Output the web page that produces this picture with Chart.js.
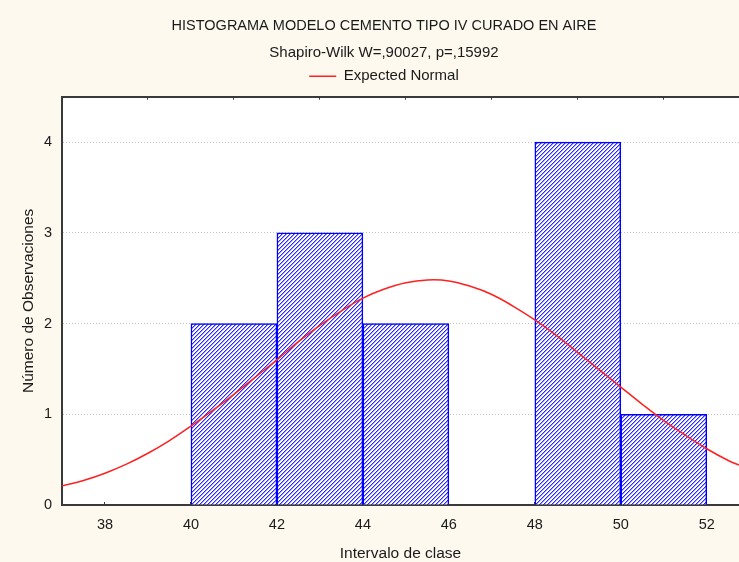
<!DOCTYPE html>
<html>
<head>
<meta charset="utf-8">
<script src="https://cdn.jsdelivr.net/npm/chart.js@4/dist/chart.umd.min.js"></script>
<style>
  html, body { margin: 0; padding: 0; background: #fdf9ef; }
  #histo { display: block; }
</style>
</head>
<body>
<canvas id="histo" width="739" height="562"></canvas>
<script>
// histogram bins (centre of each class interval) and counts
const binCenters = [41, 43, 45, 47, 49, 51];
const binCounts = [2, 3, 2, 0, 4, 1];

// expected normal curve, every half unit
const normalX = [37, 37.5, 38, 38.5, 39, 39.5, 40, 40.5, 41, 41.5, 42, 42.5, 43, 43.5, 44, 44.5,
    45, 45.5, 46, 46.5, 47, 47.5, 48, 48.5, 49, 49.5, 50, 50.5, 51, 51.5, 52, 52.5, 52.75];
const normalY = [0.21, 0.27, 0.35, 0.45, 0.57, 0.71, 0.87, 1.04, 1.22, 1.41, 1.6, 1.8, 1.98, 2.14, 2.28, 2.38,
    2.45, 2.48, 2.47, 2.41, 2.32, 2.19, 2.04, 1.87, 1.68, 1.49, 1.3, 1.11, 0.93, 0.77, 0.62, 0.49, 0.44];

const titleText = 'HISTOGRAMA MODELO CEMENTO TIPO IV CURADO EN AIRE';
const subtitleText = 'Shapiro-Wilk W=,90027, p=,15992';
const xTitle = 'Intervalo de clase';
const yTitle = 'Número de Observaciones';

const fontFamily = "'Liberation Sans', Arial, sans-serif";
const textColor = '#1a1a1a';
const axisColor = '#3a3a3a';

// diagonal hatch like the original, blue on white
function makeHatch() {
    const c = document.createElement('canvas');
    c.width = 4;
    c.height = 4;
    const g = c.getContext('2d');
    const img = g.createImageData(4, 4);
    for (let i = 0; i < 16; i++) {
        img.data[i * 4] = 255;
        img.data[i * 4 + 1] = 255;
        img.data[i * 4 + 2] = 255;
        img.data[i * 4 + 3] = 255;
    }
    for (let yy = 0; yy < 4; yy++) {
        const xx = 3 - yy;
        [xx, (xx + 1) % 4].forEach((px, k) => {
            const idx = (yy * 4 + px) * 4;
            img.data[idx] = k ? 160 : 40;
            img.data[idx + 1] = k ? 160 : 40;
            img.data[idx + 2] = 255;
        });
    }
    g.putImageData(img, 0, 0);
    return g.createPattern(c, 'repeat');
}

const plotBackground = {
    id: 'plotBackground',
    beforeDraw(chart) {
        const { ctx, chartArea } = chart;
        ctx.save();
        ctx.fillStyle = '#ffffff';
        ctx.fillRect(chartArea.left, chartArea.top, chartArea.right - chartArea.left, chartArea.bottom - chartArea.top);
        ctx.restore();
    }
};

const ctx = document.getElementById('histo');

new Chart(ctx, {
    type: 'bar',
    data: {
        datasets: [
            {
                type: 'line',
                label: 'Expected Normal',
                data: normalX.map((x, i) => ({ x: x, y: normalY[i] })),
                borderColor: '#ff2020',
                borderWidth: 1.5,
                pointRadius: 0,
                tension: 0.4,
                fill: false,
                order: 0
            },
            {
                label: 'Observaciones',
                data: binCenters.map((x, i) => ({ x: x, y: binCounts[i] })),
                backgroundColor: makeHatch(),
                borderColor: '#0000ff',
                borderWidth: 1.5,
                barPercentage: 1,
                categoryPercentage: 1,
                order: 1
            }
        ]
    },
    options: {
        responsive: false,
        animation: false,
        layout: {
            padding: { left: 29, right: 0, top: 0, bottom: 0 }
        },
        plugins: {
            title: {
                display: true,
                text: titleText,
                color: textColor,
                font: { family: fontFamily, size: 14.5, weight: 'normal' },
                padding: { top: 17.5, bottom: 8 }
            },
            subtitle: {
                display: true,
                text: subtitleText,
                color: textColor,
                font: { family: fontFamily, size: 15 },
                padding: { top: 0.5, bottom: 0 }
            },
            legend: {
                display: true,
                position: 'top',
                labels: {
                    filter: item => item.datasetIndex === 0,
                    usePointStyle: true,
                    pointStyle: 'line',
                    pointStyleWidth: 27,
                    padding: 7.3,
                    color: textColor,
                    font: { family: fontFamily, size: 15 }
                }
            },
            tooltip: { enabled: false }
        },
        scales: {
            x: {
                type: 'linear',
                position: 'bottom',
                min: 37,
                max: 52.75,
                offset: false,
                afterFit: s => { s.height = 57; },
                ticks: {
                    stepSize: 2,
                    includeBounds: false,
                    padding: 14,
                    color: textColor,
                    font: { family: fontFamily, size: 14.5 }
                },
                grid: {
                    offset: false,
                    drawOnChartArea: false,
                    drawTicks: true,
                    tickLength: -3,
                    tickColor: axisColor,
                    tickWidth: 1
                },
                border: { color: axisColor, width: 2 },
                title: {
                    display: true,
                    text: xTitle,
                    color: textColor,
                    font: { family: fontFamily, size: 15.5 },
                    padding: { top: 0, bottom: -1 }
                }
            },
            x2: {
                type: 'linear',
                position: 'top',
                min: 37,
                max: 52.75,
                offset: false,
                afterFit: s => { s.height = 3; },
                ticks: { display: false, stepSize: 2, includeBounds: false },
                grid: {
                    drawOnChartArea: false,
                    drawTicks: true,
                    tickLength: -3,
                    tickColor: axisColor,
                    tickWidth: 1
                },
                border: { color: axisColor, width: 2 }
            },
            y: {
                type: 'linear',
                min: 0,
                max: 4.5,
                afterFit: s => { s.width = 33; },
                ticks: {
                    stepSize: 1,
                    includeBounds: false,
                    padding: 10,
                    color: textColor,
                    font: { family: fontFamily, size: 14.5 }
                },
                grid: {
                    drawTicks: false,
                    color: c => (c.tick && c.tick.value === 0 ? 'rgba(0,0,0,0)' : '#c4c4c4'),
                    lineWidth: 1
                },
                border: { color: axisColor, width: 2, dash: [1, 2] },
                title: {
                    display: true,
                    text: yTitle,
                    color: textColor,
                    font: { family: fontFamily, size: 15.5 },
                    padding: { top: -9.3, bottom: 0 }
                }
            }
        }
    },
    plugins: [plotBackground]
});
</script>
</body>
</html>
